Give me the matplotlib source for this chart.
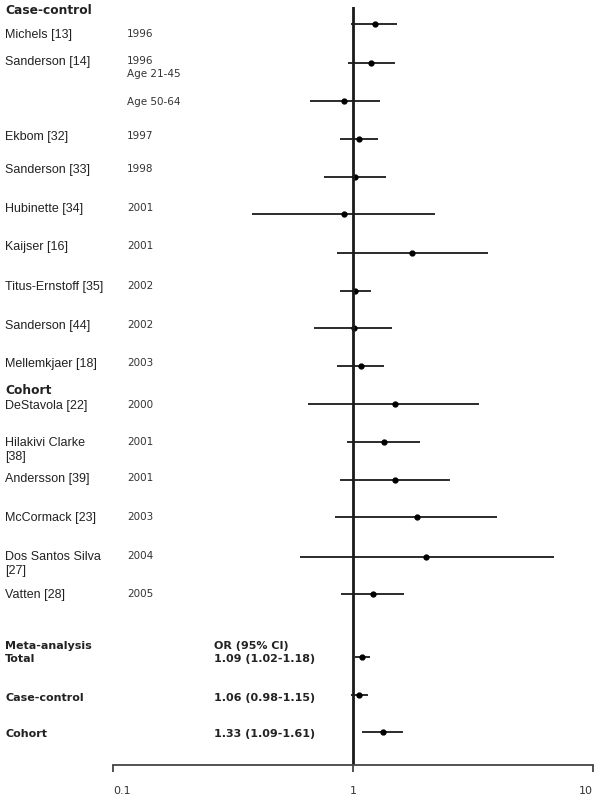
import numpy as np
import matplotlib.pyplot as plt
import matplotlib.transforms as mtransforms

# Study data (odds ratios with 95% CI)
studies = ["Michels [13]", "Sanderson [14]", "", "Ekbom [32]", "Sanderson [33]",
           "Hubinette [34]", "Kaijser [16]", "Titus-Ernstoff [35]", "Sanderson [44]",
           "Mellemkjaer [18]", "DeStavola [22]", "Hilakivi Clarke\n[38]",
           "Andersson [39]", "McCormack [23]", "Dos Santos Silva\n[27]", "Vatten [28]"]
years = ["1996", "1996\nAge 21-45", "Age 50-64", "1997", "1998", "2001", "2001",
         "2002", "2002", "2003", "2000", "2001", "2001", "2003", "2004", "2005"]
odds = [1.23, 1.19, 0.92, 1.06, 1.02, 0.92, 1.76, 1.02, 1.01, 1.08,
        1.49, 1.34, 1.49, 1.84, 2.01, 1.21]
ci_low = [0.98, 0.95, 0.66, 0.88, 0.76, 0.38, 0.86, 0.88, 0.69, 0.86,
          0.65, 0.94, 0.88, 0.84, 0.60, 0.89]
ci_high = [1.53, 1.49, 1.29, 1.27, 1.37, 2.19, 3.66, 1.19, 1.45, 1.35,
           3.35, 1.90, 2.53, 3.99, 6.85, 1.63]

meta_labels = ["Total", "Case-control", "Cohort"]
meta_or = [1.09, 1.06, 1.33]
meta_low = [1.02, 0.98, 1.09]
meta_high = [1.18, 1.15, 1.61]

# layout (pixel rows, top = 0)
row_y = [24, 63, 101, 139, 177, 214, 253, 291, 328, 366,
         404, 442, 480, 517, 557, 594]
name_y = [35, 62, 103, 137, 170, 209, 247, 287, 326, 364,
          406, 450, 479, 518, 564, 595]
meta_y = [657, 695, 732]
meta_text_y = [659, 698, 734]

W, H = 600, 797
fig = plt.figure(figsize=(W / 100, H / 100), dpi=100)
ax = fig.add_axes([113 / W, 1 - 765 / H, (593 - 113) / W, (765 - 7) / H])
ax.set_xscale("log")
ax.set_xlim(0.1, 10)
ax.set_ylim(765, 7)

ink = "#1a1a1a"
ax.hlines(row_y, ci_low, ci_high, color=ink, lw=1.3)
ax.plot(odds, row_y, "o", color="black", ms=3.5)
ax.hlines(meta_y, meta_low, meta_high, color=ink, lw=1.3)
ax.plot(meta_or, meta_y, "o", color="black", ms=3.5)
ax.axvline(1, color=ink, lw=2)

for s in ["left", "right", "top"]:
    ax.spines[s].set_visible(False)
ax.spines["bottom"].set_linewidth(1.3)
ax.spines["bottom"].set_color("#444444")
ax.set_yticks([])
ax.set_xticks([0.1, 1, 10])
ax.set_xticklabels(["0.1", "1", "10"])
ax.xaxis.set_minor_locator(plt.NullLocator())
ax.tick_params(axis="x", length=5, width=1.3, color="#444444", pad=10,
               labelsize=8, labelcolor="#333333")
tl = ax.get_xticklabels()
tl[0].set_ha("left")
tl[2].set_ha("right")

# text columns: x in figure fraction, y in pixel rows
trans = mtransforms.blended_transform_factory(fig.transFigure, ax.transData)
name_font = dict(family="Liberation Sans", fontsize=9, color="#222222",
                 va="center", linespacing=1.25)
year_font = dict(family="DejaVu Sans", fontsize=7.5, color="#333333",
                 va="top", linespacing=1.35)
bold_font = dict(family="DejaVu Sans", fontsize=8, fontweight="bold",
                 color="#222222", va="center")
head_font = dict(bold_font, fontsize=8.8)

ax.text(5 / W, 11, "Case-control", transform=trans, **head_font)
ax.text(5 / W, 391, "Cohort", transform=trans, **head_font)
for name, yr, ny in zip(studies, years, name_y):
    if name:
        ax.text(5 / W, ny, name, transform=trans, **name_font)
    top = ny - 6 if "\n" not in name else ny - 13
    if yr == "Age 50-64":
        top = ny - 6
    ax.text(127 / W, top, yr, transform=trans, **year_font)

ax.text(5 / W, 646, "Meta-analysis", transform=trans, **bold_font)
ax.text(214 / W, 646, "OR (95% CI)", transform=trans, **bold_font)
for lab, o, l, h, ty in zip(meta_labels, meta_or, meta_low, meta_high, meta_text_y):
    ax.text(5 / W, ty, lab, transform=trans, **bold_font)
    ax.text(214 / W, ty, f"{o:.2f} ({l:.2f}-{h:.2f})", transform=trans, **bold_font)

fig.savefig("out.png", dpi=100, facecolor="white")
